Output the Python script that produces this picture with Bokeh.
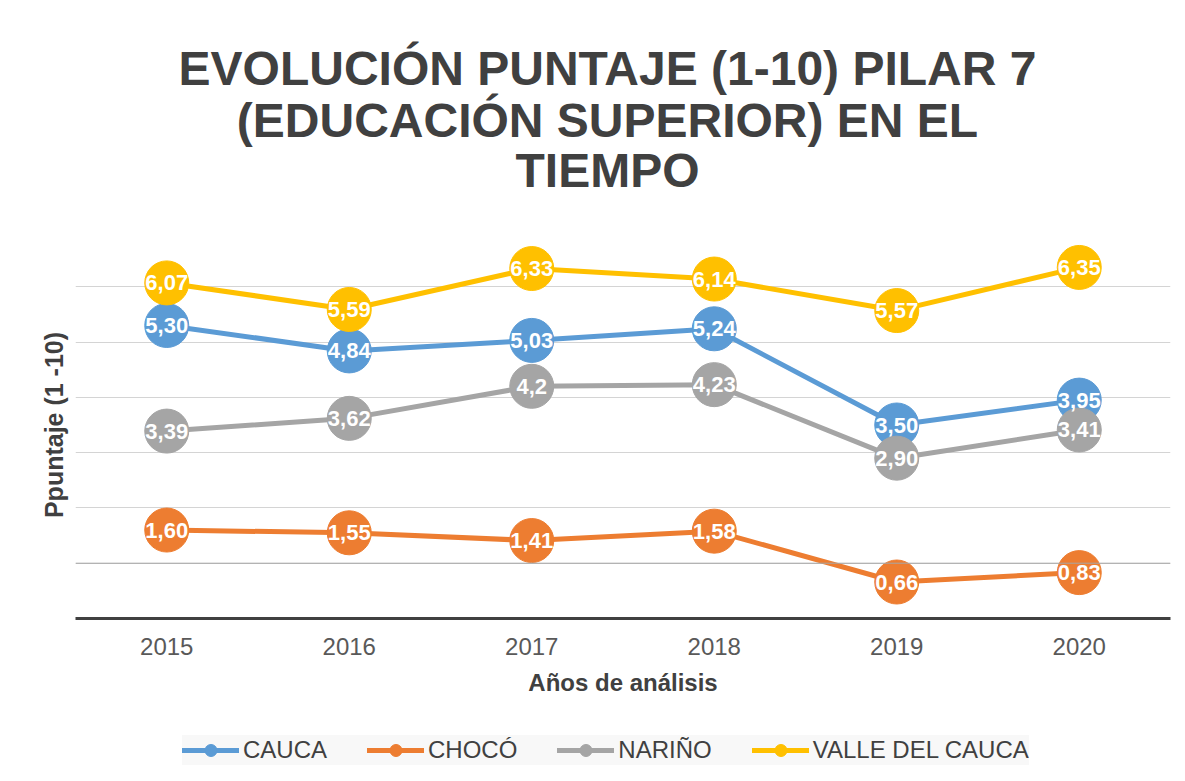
from bokeh.plotting import figure
from bokeh.layouts import column
from bokeh.models import (ColumnDataSource, FactorRange, Range1d, SingleIntervalTicker,
                          FixedTicker, Legend, LegendItem, Label, Span)
from bokeh.core.properties import value
from bokeh.embed import file_html
from bokeh.resources import INLINE

# ---------------- data ----------------
years = ["2015", "2016", "2017", "2018", "2019", "2020"]

cauca = [5.30, 4.84, 5.03, 5.24, 3.50, 3.95]
choco = [1.60, 1.55, 1.41, 1.58, 0.66, 0.83]
narino = [3.39, 3.62, 4.20, 4.23, 2.90, 3.41]
valle = [6.07, 5.59, 6.33, 6.14, 5.57, 6.35]

cauca_labels = ["5,30", "4,84", "5,03", "5,24", "3,50", "3,95"]
choco_labels = ["1,60", "1,55", "1,41", "1,58", "0,66", "0,83"]
narino_labels = ["3,39", "3,62", "4,2", "4,23", "2,90", "3,41"]
valle_labels = ["6,07", "5,59", "6,33", "6,14", "5,57", "6,35"]

series_names = ["CAUCA", "CHOCÓ", "NARIÑO", "VALLE DEL CAUCA"]
series_colors = ["#5B9BD5", "#ED7D31", "#A5A5A5", "#FFC000"]

title_lines = ["EVOLUCIÓN PUNTAJE (1-10) PILAR 7", "(EDUCACIÓN SUPERIOR) EN EL", "TIEMPO"]
x_title = "Años de análisis"
y_title = "Ppuntaje (1 -10)"

FONT = "Liberation Sans"
W = 1183

# ---------------- title strip (pixel-like coordinates) ----------------
TH = 200
tf = figure(width=W, height=TH, x_range=Range1d(75, 1170), y_range=Range1d(0, TH),
            x_axis_type=None, y_axis_type=None,
            output_backend="svg", toolbar_location=None,
            min_border_left=75, min_border_right=13, min_border_top=0, min_border_bottom=0)
tf.outline_line_color = None
tf.background_fill_color = "white"
tf.border_fill_color = "white"
title_y = [TH - 68, TH - 120, TH - 170]
for txt, ty in zip(title_lines, title_y):
    tf.add_layout(Label(x=607, y=ty, text=txt, text_font=FONT, text_font_style="bold",
                        text_font_size="48px", text_color="#404040",
                        text_align="center", text_baseline="middle"))

# ---------------- main figure ----------------
p = figure(width=W, height=512,
           x_range=FactorRange(factors=years, range_padding=0),
           y_range=Range1d(0, 7),
           output_backend="svg", toolbar_location=None,
           min_border_left=75, min_border_right=13,
           min_border_top=31, min_border_bottom=94)
p.outline_line_color = None
p.background_fill_color = "white"
p.border_fill_color = "white"

# y axis (no tick labels, only gridlines)
p.yaxis.ticker = FixedTicker(ticks=[])
p.ygrid.ticker = SingleIntervalTicker(interval=1)
p.ygrid.grid_line_color = "#D4D4D4"
p.ygrid.grid_line_width = 1
p.yaxis.axis_line_color = None
p.yaxis.major_tick_line_color = None
p.yaxis.minor_tick_line_color = None
p.yaxis.axis_label = y_title
p.yaxis.axis_label_text_font = FONT
p.yaxis.axis_label_text_font_size = "25px"
p.yaxis.axis_label_text_font_style = "bold"
p.yaxis.axis_label_text_color = "#404040"
p.yaxis.axis_label_standoff = 8

p.add_layout(Span(location=1, dimension="width", line_color="#A6A6A6", line_width=1))

# x axis
p.xgrid.grid_line_color = None
p.xaxis.axis_line_width = 3
p.xaxis.axis_line_color = "#404040"
p.xaxis.major_tick_line_color = None
p.xaxis.minor_tick_line_color = None
p.xaxis.major_label_text_font = FONT
p.xaxis.major_label_text_font_size = "24px"
p.xaxis.major_label_text_color = "#595959"
p.xaxis.major_label_standoff = 13
p.xaxis.axis_label = x_title
p.xaxis.axis_label_text_font = FONT
p.xaxis.axis_label_text_font_size = "24px"
p.xaxis.axis_label_text_font_style = "bold"
p.xaxis.axis_label_text_color = "#404040"
p.xaxis.axis_label_standoff = 11

# ---------------- series ----------------
all_values = [cauca, choco, narino, valle]
all_labels = [cauca_labels, choco_labels, narino_labels, valle_labels]

sources = []
for vals, labs, col in zip(all_values, all_labels, series_colors):
    src = ColumnDataSource(dict(x=years, y=vals, lab=labs))
    p.line("x", "y", source=src, line_color=col, line_width=5, line_cap="round")
    p.scatter("x", "y", source=src, size=44, marker="circle",
              fill_color=col, line_color=col)
    sources.append(src)

for src in sources:
    p.text("x", "y", text="lab", source=src, text_color="white",
           text_font=value(FONT), text_font_style="bold", text_font_size="22px",
           text_align="center", text_baseline="middle")

# ---------------- legend strip ----------------
# same series, drawn out of this strip's visible range so only the legend shows them
lg = figure(width=W, height=67, x_range=FactorRange(factors=years, range_padding=0),
            y_range=Range1d(50, 51),
            x_axis_type=None, y_axis_type=None,
            output_backend="svg", toolbar_location=None,
            min_border_left=75, min_border_right=13, min_border_top=0, min_border_bottom=0)
lg.outline_line_color = None
lg.background_fill_color = "white"
lg.border_fill_color = "white"
lg.xgrid.grid_line_color = None
lg.ygrid.grid_line_color = None

items = []
for name, col, src in zip(series_names, series_colors, sources):
    ln = lg.line("x", "y", source=src, line_color=col, line_width=5, line_cap="round")
    sc = lg.scatter("x", "y", source=src, size=12, marker="circle",
                    fill_color=col, line_color=col)
    items.append(LegendItem(label=name, renderers=[ln, sc], index=0))

legend = Legend(items=items, orientation="horizontal", location=(107, 14),
                glyph_width=57, glyph_height=30, label_standoff=4, spacing=40,
                padding=7, label_height=30,
                label_text_font=FONT, label_text_font_size="24px",
                label_text_color="#404040",
                background_fill_color="#F8F8F8", background_fill_alpha=1.0,
                border_line_color=None, margin=0)
lg.add_layout(legend, "center")

layout = column(tf, p, lg, spacing=0)
open("out.html", "w").write(file_html(layout, INLINE))
